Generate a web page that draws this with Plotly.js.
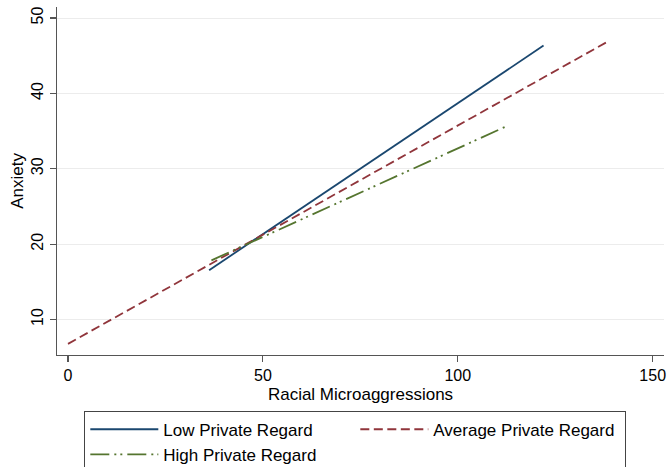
<!DOCTYPE html>
<html>
<head>
<meta charset="utf-8">
<script src="https://cdn.plot.ly/plotly-3.0.1.min.js"></script>
<style>
html,body{margin:0;padding:0;background:#fff;}
#chart{width:670px;height:467px;}
</style>
</head>
<body>
<div id="chart"></div>
<script>
// Data (predicted Anxiety by Racial Microaggressions)
var seriesNames = ["Low Private Regard", "Average Private Regard", "High Private Regard"];
var lowX = [36.2, 122.0];
var lowY = [16.54, 46.34];
var avgX = [0, 138.9];
var avgY = [6.77, 47.0];
var highX = [36.8, 112.5];
var highY = [17.85, 35.64];
var xTicks = [0, 50, 100, 150];
var yTicks = [10, 20, 30, 40, 50];

var FONT = "Liberation Sans, Arial, Helvetica, sans-serif";

var traces = [
  {x: lowX, y: lowY, name: seriesNames[0], mode: "lines",
   line: {color: "#1a476f", width: 1.8}},
  {x: avgX, y: avgY, name: seriesNames[1], mode: "lines",
   line: {color: "#90353b", width: 1.8, dash: "9px,4.5px"}},
  {x: highX, y: highY, name: seriesNames[2], mode: "lines",
   line: {color: "#55752f", width: 1.8, dash: "19px,5px,2px,4px,2px,5px"}}
];

var layout = {
  width: 670, height: 467,
  paper_bgcolor: "#ffffff", plot_bgcolor: "#ffffff",
  margin: {l: 57, r: 6, t: 7, b: 111.5, pad: 0, autoexpand: false},
  font: {family: FONT, color: "#000", size: 16},
  showlegend: true,
  xaxis: {
    range: [-2.82, 152.9], tickvals: xTicks, ticktext: xTicks.map(String),
    showgrid: false, zeroline: false,
    showline: true, linecolor: "#555", linewidth: 1.2,
    ticks: "outside", ticklen: 6, tickcolor: "#555", tickwidth: 1.2,
    tickfont: {family: FONT, size: 16, color: "#000"},
    title: {text: "Racial Microaggressions", font: {family: FONT, size: 17, color: "#000"}, standoff: 4}
  },
  yaxis: {
    range: [5.29, 51.46], tickvals: yTicks, ticktext: yTicks.map(String),
    showgrid: true, gridcolor: "#ececec", gridwidth: 1,
    zeroline: false,
    showline: true, linecolor: "#555", linewidth: 1.2,
    ticks: "outside", ticklen: 6, tickcolor: "#555", tickwidth: 1.2,
    tickangle: -90,
    tickfont: {family: FONT, size: 16, color: "#000"},
    title: {text: "Anxiety", font: {family: FONT, size: 17, color: "#000"}, standoff: 1}
  },
  legend: {
    orientation: "h",
    x: 0.045, xanchor: "left",
    y: -0.16, yanchor: "top",
    bordercolor: "#444", borderwidth: 1,
    bgcolor: "#ffffff",
    font: {family: FONT, size: 17, color: "#000"},
    itemwidth: 68,
    entrywidth: 187, entrywidthmode: "pixels",
    traceorder: "normal"
  }
};

Plotly.newPlot("chart", traces, layout, {displayModeBar: false, staticPlot: true});
</script>
</body>
</html>
